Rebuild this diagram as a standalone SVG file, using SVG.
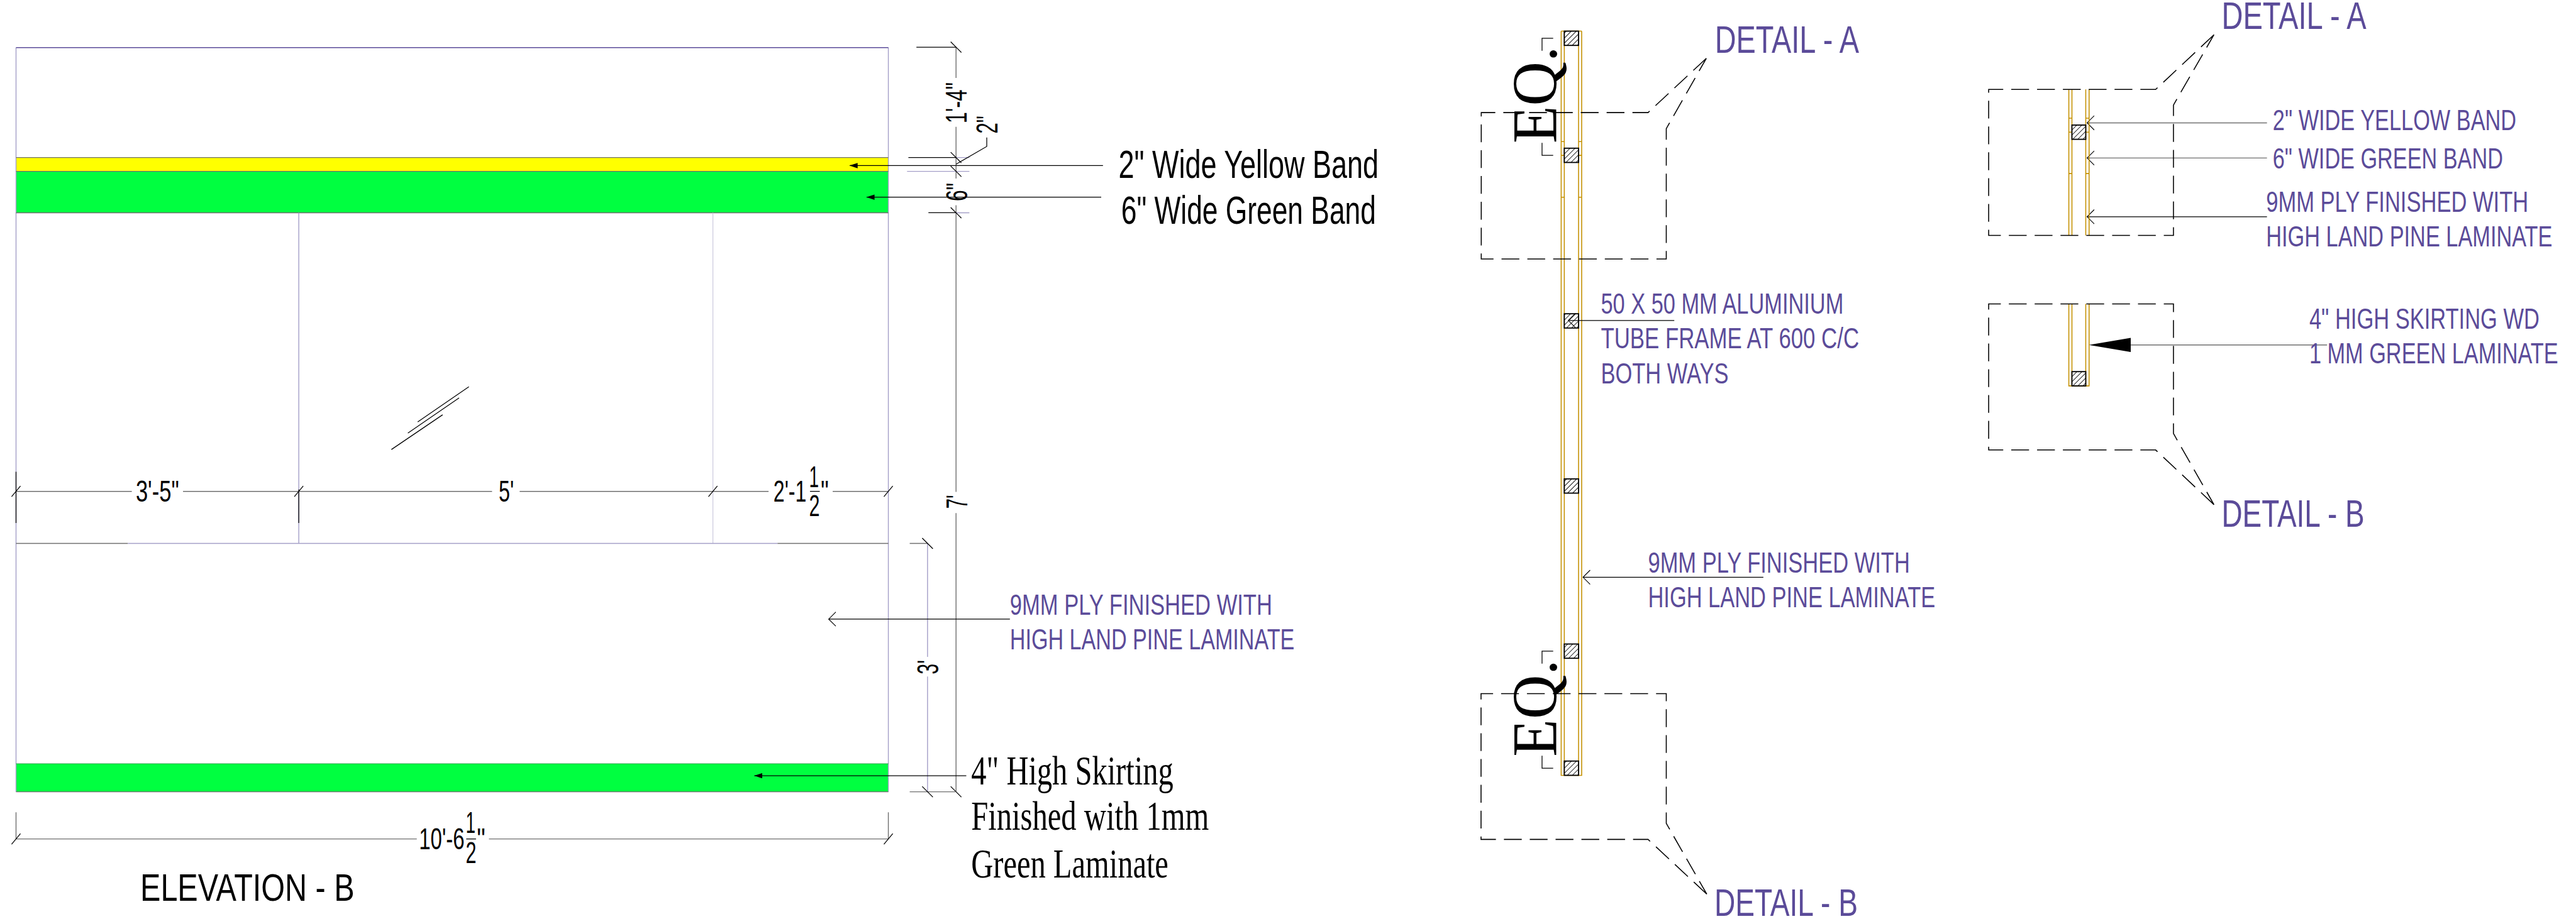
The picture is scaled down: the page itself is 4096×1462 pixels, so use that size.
<svg xmlns="http://www.w3.org/2000/svg" width="4096" height="1462" viewBox="0 0 4096 1462">
<style>
text{font-family:"Liberation Sans",Arial,sans-serif}
.p{fill:#5b4b99;font-size:66px}
.pl{fill:#5b4b99;font-size:87px}
.k{fill:#000;font-size:68px}
.kl{fill:#000;font-size:90px}
.s{font-family:"Liberation Serif","Times New Roman",serif;fill:#000;font-size:92px}
.eq{font-family:"Liberation Serif","Times New Roman",serif;fill:#000;font-size:143px}
.l{fill:none;stroke:#000;stroke-width:1.8}
.g{fill:none;stroke:#6f6f6f;stroke-width:2}
.v{fill:none;stroke:#a49fc8;stroke-width:2}
.vl{fill:none;stroke:#c8c6dc;stroke-width:1.6}
.d{fill:none;stroke:#000;stroke-width:2.2;stroke-dasharray:40 18}
.au{fill:none;stroke:#c49000;stroke-width:2.2}
.h{fill:url(#hatch);stroke:#000;stroke-width:2.6}
</style>
<defs>
<pattern id="hatch" patternUnits="userSpaceOnUse" width="8" height="8" patternTransform="rotate(45)"><rect width="8" height="8" fill="#fff"/><line x1="0" y1="0" x2="0" y2="8" stroke="#000" stroke-width="2.4"/></pattern>
<marker id="sol" markerUnits="userSpaceOnUse" markerWidth="18" markerHeight="12" viewBox="0 0 18 12" refX="18" refY="6" orient="auto"><path d="M18,6 L0,0 L0,12Z" fill="#000"/></marker>
<marker id="ope" markerUnits="userSpaceOnUse" markerWidth="20" markerHeight="36" viewBox="0 0 20 36" refX="18" refY="18" orient="auto"><path d="M2,2 L18,18 L2,34" fill="none" stroke="#000" stroke-width="1.6"/></marker>
<path id="tv" d="M-12,-12 L12,12" class="l"/>
<path id="th" d="M-10,12 L10,-12" class="l"/>
</defs>
<rect width="4096" height="1462" fill="#fff"/>
<g transform="scale(0.70804)">

<g id="elevation-b">
<rect x="36" y="354" width="1959" height="31" fill="#ffff00"/>
<rect x="36" y="385" width="1959" height="93" fill="#00ff40"/>
<rect x="36" y="1716" width="1959" height="63" fill="#00ff40"/>
<path class="v" d="M36,107 V1779 M1995,107 V1779"/>
<path d="M36,107 H1995" fill="none" stroke="#5b4b99" stroke-width="2.4"/>
<path class="g" d="M36,354 H1995 M36,385 H1995 M36,478 H1995 M36,1779 H1995"/>
<path d="M36,1716 H1995" fill="none" stroke="#2aa24a" stroke-width="1.5"/>
<path class="v" d="M671,478 V1221"/>
<path class="vl" d="M1601,478 V1221"/>
<path class="g" d="M36,1221 H287 M1746,1221 H1995"/>
<path class="v" d="M287,1221 H1746"/>
<path class="l" d="M879,1010 L994,932 M916,973 L1031,894 M938,948 L1053,869"/>
<path class="l" d="M36,1060 V1175 M671,1100 V1175"/>
</g>

<g id="connectors">
<path class="g" d="M36,1104 H296 M411,1104 H1105 M1167,1104 H1726 M1870,1104 H1995"/>
<use href="#th" x="36" y="1104"/><use href="#th" x="671" y="1104"/><use href="#th" x="1601" y="1104"/><use href="#th" x="1995" y="1104"/>
<path class="g" d="M36,1825 V1885 M1995,1825 V1885"/>
<path class="g" d="M36,1885 H936 M1098,1885 H1995"/>
<use href="#th" x="36" y="1885"/><use href="#th" x="1995" y="1885"/>

<path class="g" d="M2147,106 V175 M2147,285 V401 M2147,461 V1105 M2147,1153 V1779"/>
<path class="l" d="M2058,106 H2147 M2040,354 H2147"/>
<path class="v" d="M2147,354 H2177 M2037,385 H2177 M2147,478 H2177"/>
<path class="l" d="M2085,478 H2147"/>
<use href="#tv" x="2147" y="106"/><use href="#tv" x="2147" y="354"/><use href="#tv" x="2147" y="385"/><use href="#tv" x="2147" y="478"/><use href="#tv" x="2147" y="1779"/>
<path class="l" d="M2147,369 L2216,329 V309"/>

<path class="v" d="M2083,1221 V1476 M2083,1520 V1779"/>
<path class="g" d="M2043,1221 H2083 M2043,1779 H2147"/>
<use href="#tv" x="2083" y="1221"/><use href="#tv" x="2083" y="1779"/>

<path class="l" d="M2477,372 H1908" marker-end="url(#sol)"/>
<path class="l" d="M2473,443 H1946" marker-end="url(#sol)"/>
<path class="l" d="M2268,1391 H1861" marker-end="url(#ope)"/>
<path class="l" d="M2170,1743 H1694" marker-end="url(#sol)"/>

<path class="l" d="M3488,86 H3463 V114 M3488,349 H3463 V321 M3488,1463 H3463 V1491 M3488,1726 H3463 V1698"/>
<path class="g" d="M5091,276 H4687" marker-end="url(#ope)"/>
<path class="g" d="M5091,355 H4687" marker-end="url(#ope)"/>
<path class="l" d="M5091,487 H4687" marker-end="url(#ope)"/>
<path class="g" d="M5226,775 H4785"/>
<path d="M4691,775 L4785,759 V791Z" fill="#000"/>
</g>

<g id="section">
<path class="au" d="M3506,70 H3552 M3506,70 V1742 H3552 V70 M3513,70 V1742 M3545,70 V1742"/>
<path class="au" d="M3506,318 H3513 M3545,318 H3552 M3506,349 H3513 M3545,349 H3552 M3506,443 H3513 M3545,443 H3552"/>
<rect class="h" x="3513" y="70" width="32" height="32"/>
<rect class="h" x="3513" y="333" width="32" height="32"/>
<rect class="h" x="3513" y="705" width="32" height="32"/>
<rect class="h" x="3513" y="1076" width="32" height="32"/>
<rect class="h" x="3513" y="1447" width="32" height="32"/>
<rect class="h" x="3513" y="1710" width="32" height="32"/>
<path class="d" d="M3832,131 L3701,253 H3326.5 V582 H3742 V289 L3832,131"/>
<path class="d" d="M3833,2009 L3701,1886 H3326 V1558.5 H3742 V1850 L3833,2009"/>
<path class="l" d="M3760,720 H3522" marker-end="url(#ope)"/>
<path class="l" d="M3960,1297 H3555" marker-end="url(#ope)"/>
</g>

<g id="detail-a">
<path class="au" d="M4646,201 V529 M4653,201 V529 M4684,201 V529 M4691.5,201 V529"/>
<path class="au" d="M4646,265.5 H4653 M4684,265.5 H4691.5 M4646,297 H4653 M4684,297 H4691.5 M4646,390 H4653 M4684,390 H4691.5"/>
<rect class="h" x="4653" y="281" width="31" height="32"/>
<path class="d" d="M4972,78 L4841,201 H4466 V529 H4881 V236 L4972,78"/>
</g>

<g id="detail-b">
<path class="au" d="M4646,683 V867 H4691.5 V683 M4653,683 V867 M4684,683 V867"/>
<rect class="h" x="4653" y="835" width="31" height="32"/>
<path class="d" d="M4972,1134 L4841,1011 H4466 V683 H4881 V974 L4972,1134"/>
</g>

<g id="labels">
<text class="k" x="305" y="1127" textLength="97" lengthAdjust="spacingAndGlyphs">3'-5"</text>
<text class="k" x="1120" y="1127" textLength="34" lengthAdjust="spacingAndGlyphs">5'</text>
<text class="k" x="1737" y="1127" textLength="74" lengthAdjust="spacingAndGlyphs">2'-1</text>
<text class="k" x="1817" y="1095" textLength="22" lengthAdjust="spacingAndGlyphs">1</text>
<text class="k" x="1817" y="1160" textLength="24" lengthAdjust="spacingAndGlyphs">2</text>
<path class="l" d="M1819,1104 H1841"/>
<text class="k" x="1843" y="1127" textLength="18" lengthAdjust="spacingAndGlyphs">"</text>
<text class="k" x="941" y="1908" textLength="102" lengthAdjust="spacingAndGlyphs">10'-6</text>
<text class="k" x="1046" y="1871" textLength="22" lengthAdjust="spacingAndGlyphs">1</text>
<text class="k" x="1046" y="1939" textLength="24" lengthAdjust="spacingAndGlyphs">2</text>
<path class="l" d="M1047,1885 H1069"/>
<text class="k" x="1071" y="1908" textLength="19" lengthAdjust="spacingAndGlyphs">"</text>
<text class="k" transform="translate(2171,277) rotate(-90)" textLength="92" lengthAdjust="spacingAndGlyphs">1'-4"</text>
<text class="k" transform="translate(2240,300) rotate(-90)" textLength="40" lengthAdjust="spacingAndGlyphs">2"</text>
<text class="k" transform="translate(2172,452) rotate(-90)" textLength="41" lengthAdjust="spacingAndGlyphs">6"</text>
<text class="k" transform="translate(2172,1143) rotate(-90)" textLength="31" lengthAdjust="spacingAndGlyphs">7'</text>
<text class="k" transform="translate(2107,1515) rotate(-90)" textLength="32" lengthAdjust="spacingAndGlyphs">3'</text>
<text class="kl" x="2512" y="399" textLength="584" lengthAdjust="spacingAndGlyphs">2" Wide Yellow Band</text>
<text class="kl" x="2518" y="503" textLength="572" lengthAdjust="spacingAndGlyphs">6" Wide Green Band</text>
<text class="p" x="2268" y="1381" textLength="589" lengthAdjust="spacingAndGlyphs">9MM PLY FINISHED WITH</text>
<text class="p" x="2268" y="1459" textLength="639" lengthAdjust="spacingAndGlyphs">HIGH LAND PINE LAMINATE</text>
<text class="s" x="2181" y="1762" textLength="454" lengthAdjust="spacingAndGlyphs">4" High Skirting</text>
<text class="s" x="2181" y="1865" textLength="534" lengthAdjust="spacingAndGlyphs">Finished with 1mm</text>
<text class="s" x="2181" y="1971" textLength="443" lengthAdjust="spacingAndGlyphs">Green Laminate</text>
<text class="kl" style="font-size:85px" x="315" y="2024" textLength="481" lengthAdjust="spacingAndGlyphs">ELEVATION - B</text>
<text class="eq" transform="translate(3496,322) rotate(-90)" textLength="218" lengthAdjust="spacingAndGlyphs">EQ.</text>
<text class="eq" transform="translate(3496,1700) rotate(-90)" textLength="218" lengthAdjust="spacingAndGlyphs">EQ.</text>
<text class="pl" x="3851" y="118" textLength="324" lengthAdjust="spacingAndGlyphs">DETAIL - A</text>
<text class="pl" x="3850" y="2058" textLength="322" lengthAdjust="spacingAndGlyphs">DETAIL - B</text>
<text class="p" x="3595" y="705" textLength="545" lengthAdjust="spacingAndGlyphs">50 X 50 MM ALUMINIUM</text>
<text class="p" x="3595" y="783" textLength="580" lengthAdjust="spacingAndGlyphs">TUBE FRAME AT 600 C/C</text>
<text class="p" x="3595" y="861" textLength="287" lengthAdjust="spacingAndGlyphs">BOTH WAYS</text>
<text class="p" x="3701" y="1286" textLength="588" lengthAdjust="spacingAndGlyphs">9MM PLY FINISHED WITH</text>
<text class="p" x="3701" y="1364" textLength="645" lengthAdjust="spacingAndGlyphs">HIGH LAND PINE LAMINATE</text>
<text class="pl" x="4989" y="65" textLength="325" lengthAdjust="spacingAndGlyphs">DETAIL - A</text>
<text class="p" x="5104" y="292" textLength="547" lengthAdjust="spacingAndGlyphs">2" WIDE YELLOW BAND</text>
<text class="p" x="5104" y="378" textLength="517" lengthAdjust="spacingAndGlyphs">6" WIDE GREEN BAND</text>
<text class="p" x="5089" y="476" textLength="589" lengthAdjust="spacingAndGlyphs">9MM PLY FINISHED WITH</text>
<text class="p" x="5089" y="554" textLength="643" lengthAdjust="spacingAndGlyphs">HIGH LAND PINE LAMINATE</text>
<text class="p" x="5186" y="739" textLength="517" lengthAdjust="spacingAndGlyphs">4" HIGH SKIRTING WD</text>
<text class="p" x="5186" y="817" textLength="559" lengthAdjust="spacingAndGlyphs">1 MM GREEN LAMINATE</text>
<text class="pl" x="4989" y="1184" textLength="321" lengthAdjust="spacingAndGlyphs">DETAIL - B</text>
</g>
</g>
</svg>
